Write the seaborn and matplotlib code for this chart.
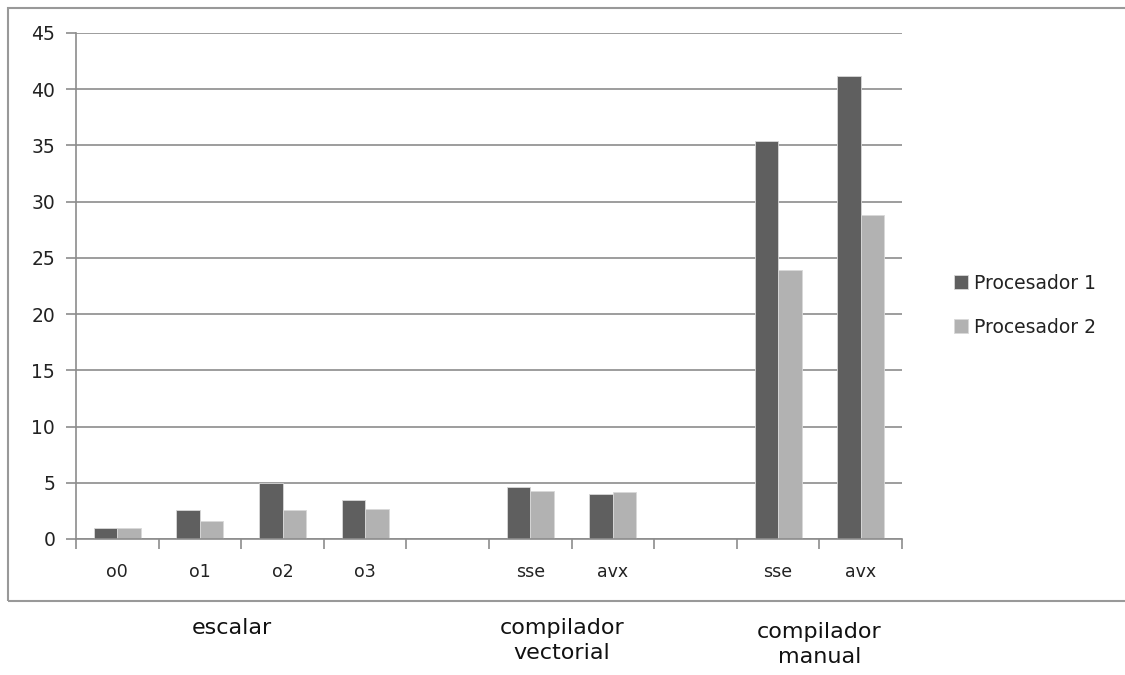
import matplotlib
matplotlib.use("Agg")
import matplotlib.pyplot as plt
from matplotlib.patches import Rectangle
import numpy as np
import pandas as pd
import seaborn as sns

sns.set_theme(style="white")
plt.rcParams['font.family'] = ['DejaVu Sans']

# data
slot_keys = ["e_o0", "e_o1", "e_o2", "e_o3", "gap1", "v_sse", "v_avx", "gap2", "m_sse", "m_avx"]
slot_labels = ["o0", "o1", "o2", "o3", "", "sse", "avx", "", "sse", "avx"]
proc1 = [1.0, 2.6, 5.0, 3.5, np.nan, 4.6, 4.0, np.nan, 35.4, 41.2]
proc2 = [1.0, 1.6, 2.6, 2.7, np.nan, 4.3, 4.2, np.nan, 23.9, 28.8]
series_names = ["Procesador 1", "Procesador 2"]
group_names = ["escalar", "compilador\nvectorial", "compilador\nmanual"]
group_pos = [1.39, 5.38, 8.5]
group_top = [618, 618, 622]
colors = ["#5f5f5f", "#b2b2b2"]

rows = []
for k, a, b in zip(slot_keys, proc1, proc2):
    rows.append({"slot": k, "serie": series_names[0], "valor": a})
    rows.append({"slot": k, "serie": series_names[1], "valor": b})
df = pd.DataFrame(rows)

fig = plt.figure(figsize=(11.25, 6.75), dpi=100)
ax = fig.add_axes([76 / 1125, 1 - 539 / 675, (902 - 76) / 1125, (539 - 33) / 675])

sns.barplot(data=df, x="slot", y="valor", hue="serie", order=slot_keys,
            hue_order=series_names, palette=colors, width=0.57,
            errorbar=None, ax=ax, saturation=1, edgecolor="#d8d8d8", linewidth=0.6)

ax.set_xlim(-0.5, len(slot_keys) - 0.5)
ax.set_ylim(0, 45)
ax.set_yticks(range(0, 46, 5))
ax.yaxis.grid(True, color="#8c8c8c", linewidth=1.2)
ax.set_axisbelow(True)
ax.set_xlabel("")
ax.set_ylabel("")

# boundaries as major ticks, names at the centres
ax.set_xticks(np.arange(-0.5, len(slot_keys), 1.0))
ax.set_xticklabels([])
ax.set_xticks(np.arange(len(slot_keys)), minor=True)
ax.set_xticklabels(slot_labels, minor=True, fontsize=12.5, color="#222222")
ax.tick_params(axis="x", which="major", length=7, width=1.2, color="#8c8c8c", direction="out", bottom=True)
ax.tick_params(axis="x", which="minor", length=0, pad=17)
ax.tick_params(axis="y", length=7, width=1.2, color="#8c8c8c", direction="out", left=True,
               labelsize=13.5, labelcolor="#222222", pad=8)

for s in ["top", "right"]:
    ax.spines[s].set_visible(False)
for s in ["left", "bottom"]:
    ax.spines[s].set_color("#8c8c8c")
    ax.spines[s].set_linewidth(1.2)

leg = ax.legend(loc="center left", bbox_to_anchor=(1.042, 0.462), frameon=False,
                fontsize=13.5, handlelength=0.75, handleheight=0.75, handletextpad=0.35,
                labelspacing=1.35)
for t in leg.get_texts():
    t.set_color("#222222")

# outer chart frame (runs past the right edge)
fig.patches.append(Rectangle((8 / 1125, 1 - 601 / 675), 1.2, (601 - 8) / 675,
                             transform=fig.transFigure, fill=False,
                             edgecolor="#999999", linewidth=1.5))

for name, c, top in zip(group_names, group_pos, group_top):
    xf = fig.transFigure.inverted().transform(ax.transData.transform((c, 0)))[0]
    fig.text(xf, 1 - top / 675, name, ha="center", va="top", fontsize=16,
             color="#111111", linespacing=1.3)

fig.savefig("out.png", dpi=100)
